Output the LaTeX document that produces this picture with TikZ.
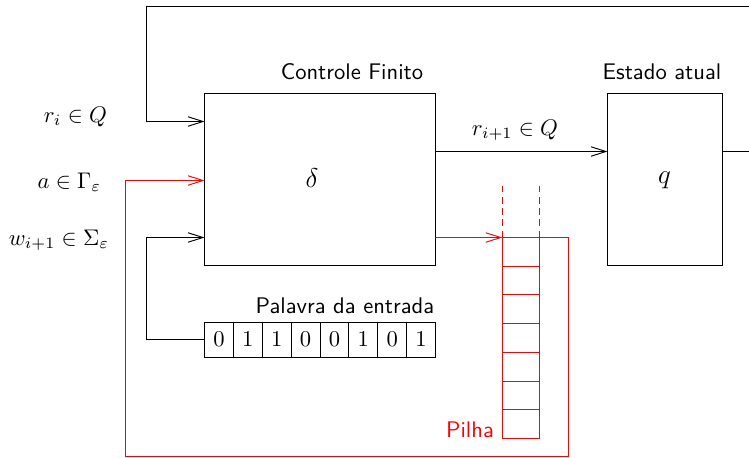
\documentclass[tikz,border=0pt]{standalone}
\usetikzlibrary{arrows.meta}
\begin{document}
\begin{tikzpicture}[x=0.4425pt, y=-0.4425pt,
  every node/.style={inner sep=0pt, outer sep=0pt},
  conn/.style={line width=0.42pt, -{Straight Barb[length=6.6pt,width=4.2pt]}},
  block/.style={draw, line width=0.42pt, minimum width=#1, minimum height=76.1pt},
  tapecell/.style={draw, line width=0.42pt, minimum width=12.8pt, minimum height=15.5pt},
  stackcell/.style={draw=red, line width=0.42pt, minimum width=16.3725pt, minimum height=12.7pt},
  caption/.style={font=\sffamily},
  mlabel/.style={anchor=east}]
  \useasboundingbox (0,0) rectangle (749,458);
  \clip (0,0) rectangle (749,458);

  % main blocks
  \node[block=102.2pt] (cf) at (320,179.5) {};
  \node[font=\large] (delta) at (312,178) {$\delta$};
  \node[caption] (cfl) at (352,72) {Controle Finito};

  \node[block=50.9pt] (ea) at (665,179.5) {};
  \node[font=\large] (q) at (664.5,180) {$q$};
  \node[caption] (eal) at (662,72) {Estado atual};

  % input tape
  \foreach \k/\b in {1/0,2/1,3/1,4/0,5/0,6/1,7/0,8/1}
    \node[tapecell] (c\k) at ({204.5+28.875*(\k-0.5)},339.5) {$\b$};
  \node[caption] (tl) at (345,306) {Palavra da entrada};

  % stack
  \foreach \k in {1,...,7}
    \node[stackcell] (s\k) at (520.8,{237.5+28.7*(\k-0.5)}) {};
  \node[caption, text=red] (pl) at (470,430) {Pilha};
  \draw[red, dash pattern=on 3pt off 2pt, line width=0.42pt] (s1.north west) -- ++(0,-54);
  \draw[red, dash pattern=on 3pt off 2pt, line width=0.42pt] (s1.north east) -- ++(0,-54);

  % input labels
  \node[mlabel] (lr) at (107,117) {$r_i \in Q$};
  \node[mlabel] (la) at (101,182) {$a \in \Gamma_\varepsilon$};
  \node[mlabel] (lw) at (109,240) {$w_{i+1} \in \Sigma_\varepsilon$};

  % helper points on the left side of the control block
  \coordinate (yr) at (0,121.5);
  \coordinate (ya) at (0,180.5);
  \coordinate (yw) at (0,237.5);
  \coordinate (ys) at (0,151.5);

  % next state into the current state register
  \draw[conn] (cf.east |- ys) -- (ea.west |- ys);
  \node (lnext) at (515,130) {$r_{i+1} \in Q$};

  % feedback of the current state
  \draw[conn] (ea.east |- ys) -- (790,151.5) |- (146.5,6.5) |- (cf.west |- yr);

  % tape symbol
  \draw[conn] (c1.west) -| (146.5,237.5) -- (cf.west |- yw);

  % stack push and stack top
  \draw[conn, red] (cf.east |- yw) -- (s1.north west);
  \draw[conn, red] (s1.north east) -| (568.5,456.5) -| (125.5,180.5) -- (cf.west |- ya);
\end{tikzpicture}
\end{document}
